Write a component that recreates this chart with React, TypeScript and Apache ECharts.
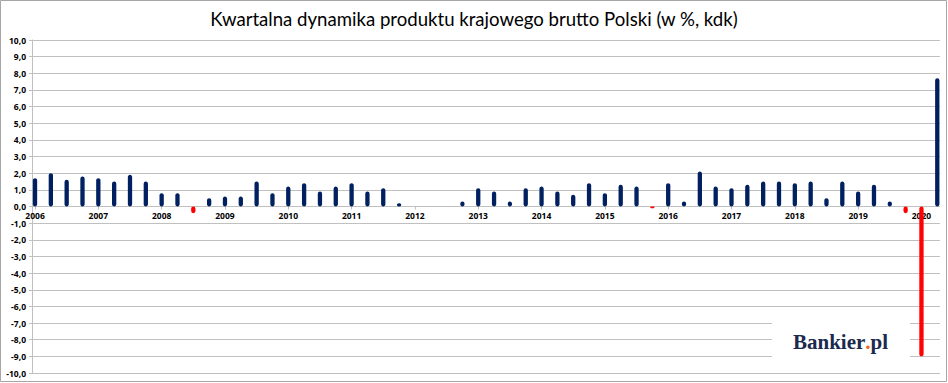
import React, { useEffect, useRef } from 'react';
import * as echarts from 'echarts';

const chartTitle = 'Kwartalna dynamika produktu krajowego brutto Polski (w %, kdk)';
const years = ['2006', '2007', '2008', '2009', '2010', '2011', '2012', '2013', '2014', '2015', '2016', '2017', '2018', '2019', '2020'];
const quarterValues = [
  1.7, 2.0, 1.6, 1.8, 1.7, 1.5, 1.9, 1.5, 0.8, 0.8,
  -0.4, 0.5, 0.6, 0.6, 1.5, 0.8, 1.2, 1.4, 0.9, 1.2,
  1.4, 0.9, 1.1, 0.2, 0, 0, 0, 0.3, 1.1, 0.9,
  0.3, 1.1, 1.2, 0.9, 0.7, 1.4, 0.8, 1.3, 1.2, -0.1,
  1.4, 0.3, 2.1, 1.2, 1.1, 1.3, 1.5, 1.5, 1.4, 1.5,
  0.5, 1.5, 0.9, 1.3, 0.3, -0.4, -9.0, 7.7,
];
const categories = quarterValues.map((_, i) => `${years[Math.floor(i / 4)]} Q${(i % 4) + 1}`);
const yMin = -10;
const yMax = 10;
const yStep = 1;

const NAVY = '#002060';
const RED = '#ff0000';
const GRID = '#c0c0c0';

const GRID_TOP = 40;
const GRID_BOTTOM = 10;
const PLOT_H = 383 - GRID_TOP - GRID_BOTTOM;

export default function App() {
  const ref = useRef<HTMLDivElement>(null);
  useEffect(() => {
    if (!ref.current) return;
    const chart = echarts.init(ref.current, null, { renderer: 'svg' });
    const labelFont = { fontFamily: 'Open Sans', fontWeight: 'bold' as const, fontSize: 8.5, color: '#000000' };
    // distance from the bottom of the plot up to the zero line
    const zeroOffset = -PLOT_H * ((0 - yMin) / (yMax - yMin));
    chart.setOption({
      animation: false,
      backgroundColor: '#ffffff',
      title: {
        text: chartTitle,
        left: 'center',
        top: 4,
        textStyle: { fontFamily: 'Lato', fontWeight: 'normal', fontSize: 18.6, color: '#000000' },
      },
      grid: [
        { left: 32, right: 8, top: GRID_TOP, bottom: GRID_BOTTOM },
        { left: 27.1, right: 2.8, top: GRID_TOP, bottom: GRID_BOTTOM },
      ],
      xAxis: [
        { type: 'category', gridIndex: 0, data: categories, show: false },
        {
          type: 'category',
          gridIndex: 1,
          position: 'bottom',
          offset: zeroOffset,
          data: categories,
          axisLine: { show: false, onZero: false },
          axisTick: { show: true, interval: 3, alignWithLabel: true, length: 3, lineStyle: { color: GRID } },
          axisLabel: {
            ...labelFont,
            interval: 3,
            margin: 4,
            formatter: (v: string) => v.split(' ')[0],
          },
          splitLine: { show: false },
        },
      ],
      yAxis: [
        {
          type: 'value',
          gridIndex: 0,
          min: yMin,
          max: yMax,
          interval: yStep,
          axisLine: { show: true, lineStyle: { color: GRID, width: 1 } },
          axisTick: { show: true, length: 3, lineStyle: { color: GRID } },
          axisLabel: {
            ...labelFont,
            margin: 6,
            formatter: (v: number) => v.toFixed(1).replace('.', ','),
          },
          splitLine: { show: true, lineStyle: { color: GRID, width: 1 } },
        },
        {
          type: 'value',
          gridIndex: 1,
          min: yMin,
          max: yMax,
          interval: yStep,
          axisLine: { show: false },
          axisTick: { show: false },
          axisLabel: { show: false },
          splitLine: { show: false },
        },
      ],
      series: [
        {
          type: 'bar',
          xAxisIndex: 1,
          yAxisIndex: 1,
          barWidth: 4.3,
          clip: false,
          z: 3,
          data: quarterValues.map((v) => ({
            value: v,
            itemStyle: {
              color: v < 0 ? RED : NAVY,
              borderColor: v < 0 ? RED : NAVY,
              borderWidth: v === 0 ? 0 : 1.5,
              borderRadius: 2,
            },
          })),
        },
      ],
      graphic: [
        {
          type: 'rect',
          z: 100,
          shape: { x: 0.5, y: 0.5, width: 946, height: 381 },
          style: { fill: 'none', stroke: '#a6a6a6', lineWidth: 1 },
        },
        {
          type: 'rect',
          z: 50,
          shape: { x: 772, y: 318, width: 138, height: 44 },
          style: { fill: '#ffffff' },
        },
        {
          type: 'text',
          z: 51,
          x: 793,
          y: 331,
          style: {
            text: '{a|Bankier}{b|.}{a|pl}',
            rich: {
              a: { fontFamily: 'Liberation Serif', fontWeight: 'bold', fontSize: 21, fill: '#1b2a4e' },
              b: { fontFamily: 'Liberation Serif', fontWeight: 'bold', fontSize: 21, fill: '#f26522' },
            },
          },
        },
      ],
    });
    return () => chart.dispose();
  }, []);
  return <div ref={ref} style={{ position: 'fixed', left: 0, top: 0, width: 948, height: 383 }} />;
}
